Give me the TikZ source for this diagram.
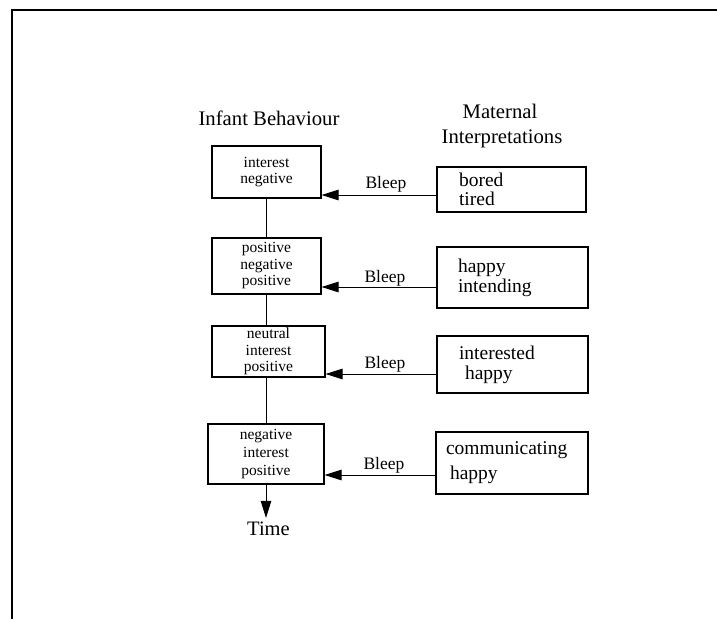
\documentclass[tikz,border=0pt]{standalone}
\usepackage{fontspec}
\setmainfont{Liberation Serif}
\usetikzlibrary{arrows.meta}

\begin{document}
\begin{tikzpicture}[x=1pt, y=-1pt, infant/.style={rectangle, draw, line width=1.1pt, minimum width=109pt, align=center, inner sep=0pt, font=\fontsize{15.5}{16.5}\selectfont}, mother/.style={rectangle, draw, line width=1.1pt, align=left, inner ysep=0pt, font=\fontsize{19.5}{19.5}\selectfont}, head/.style={anchor=base, font=\fontsize{20.7}{25}\selectfont}, bleep/.style={anchor=base west, font=\fontsize{17.5}{20}\selectfont}, arrow/.style={line width=1pt, -{Triangle[length=17pt, width=10.5pt]}}, link/.style={line width=1pt}, frame/.style={line width=2.5pt}]
\useasboundingbox (0,0) rectangle (717,619);
\draw [frame] (717,10) -- (12,10) -- (12,619);
\node (INFH) [head] at (269,125) {Infant Behaviour};
\node (MATH) [head] at (500,118) {Maternal};
\node (INTH) [head] at (502,143) {Interpretations};
\node (INF1) [infant, minimum height=52pt] at (266.5,172) {interest\\negative};
\node (INF2) [infant, minimum height=56pt] at (266.5,266) {positive\\negative\\positive};
\node (INF3) [infant, minimum width=113pt, minimum height=51pt] at (268.5,351.5) {neutral\\interest\\positive};
\node (INF4) [infant, minimum width=116pt, minimum height=60pt] at (266,454) {negative\\[1.5pt]interest\\[1.5pt]positive};
\node (TIME) [anchor=base, font=\fontsize{20.5}{24}\selectfont] at (268.5,535) {Time};
\node (MAT1) [mother, inner xsep=22pt, text width=105pt, minimum height=45pt] at (511.5,189.5) {bored\\tired};
\node (MAT2) [mother, inner xsep=21pt, text width=109pt, minimum height=61pt] at (512.5,277.5) {happy\\[0.5pt]intending};
\node (MAT3) [mother, inner xsep=22pt, text width=107pt, minimum height=57pt] at (512.5,364.5) {interested\\[0.5pt]\hspace*{6pt}happy};
\node (MAT4) [mother, inner xsep=10pt, text width=132pt, minimum height=62pt] at (512,463) {communicating\\[5.5pt]\hspace*{4pt}happy};
\node (BL1) [bleep] at (362,188) {Bleep};
\node (BL2) [bleep] at (361,282) {Bleep};
\node (BL3) [bleep] at (361,368) {Bleep};
\node (BL4) [bleep] at (360,469) {Bleep};
\coordinate (T1) at (437,195);
\coordinate (T2) at (437,287);
\coordinate (T3) at (437,374);
\coordinate (T4) at (436,475);
\draw [link] (INF1.south) -- (INF2.north);
\draw [link] (INF2.south) -- (INF2.south |- INF3.north);
\draw [link] (INF3.south -| INF2.south) -- (INF2.south |- INF4.north);
\draw [arrow] (INF4.south) -- (INF4.south |- TIME.north);
\draw [arrow] (T1) -- (T1 -| INF1.east);
\draw [arrow] (T2) -- (T2 -| INF2.east);
\draw [arrow] (T3) -- (T3 -| INF3.east);
\draw [arrow] (T4) -- (T4 -| INF4.east);
\end{tikzpicture}
\end{document}
